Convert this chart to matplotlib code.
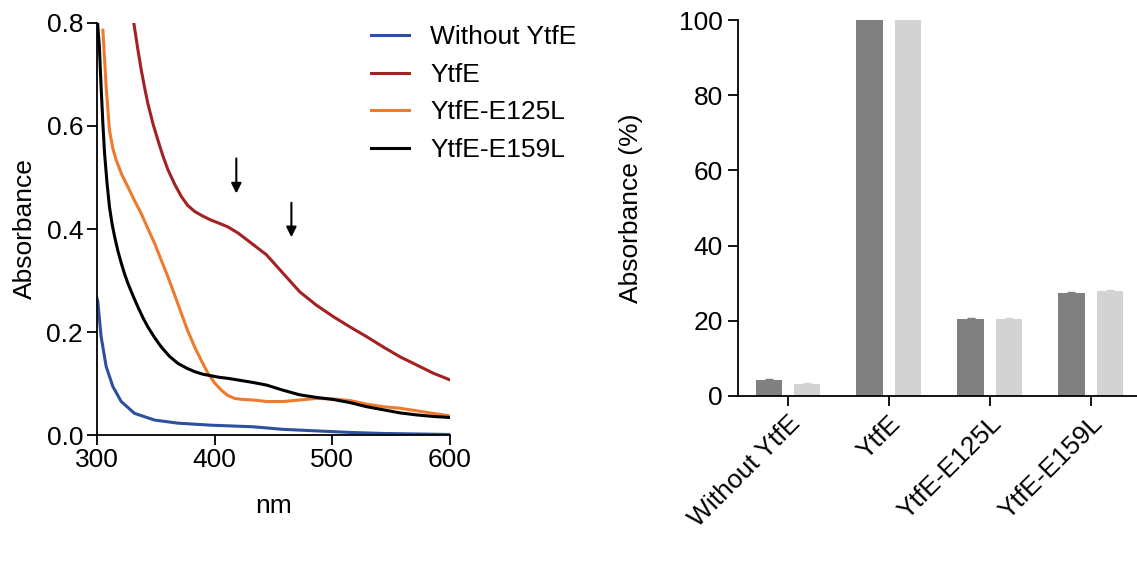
import matplotlib
matplotlib.use('Agg')
import matplotlib.pyplot as plt
import numpy as np

plt.rcParams.update({'font.family': 'Liberation Sans'})
plt.rcParams.update({'font.size': 19})

# Spectra (wavelength in nm, absorbance)
wl_without = [300, 300.7, 303.5, 307.8, 313.5, 320.6, 331.9, 349, 368.8, 397.2, 432.6, 458, 486.5,
              514.9, 543, 571.6, 600]
abs_without = [0.265, 0.259, 0.191, 0.133, 0.094, 0.065, 0.042, 0.029, 0.023, 0.019, 0.016, 0.011,
               0.008, 0.005, 0.003, 0.002, 0.001]

wl_ytfe = [331.3, 334.5, 337.6, 340.5, 343.2, 347.5, 351.7, 356, 360.3, 366, 371.7, 377, 383, 390,
           397.2, 404, 411.3, 420, 432.6, 444, 458.1, 472.3, 486.5, 500.7, 514.9, 529.1, 543.2,
           557.4, 571.6, 585.8, 600]
abs_ytfe = [0.8, 0.752, 0.709, 0.674, 0.644, 0.605, 0.573, 0.542, 0.515, 0.487, 0.463, 0.446, 0.434,
            0.425, 0.417, 0.411, 0.404, 0.392, 0.370, 0.350, 0.314, 0.278, 0.252, 0.230, 0.210,
            0.191, 0.171, 0.152, 0.136, 0.120, 0.107]

wl_e125 = [305, 307.8, 310.6, 313.5, 316.3, 321, 326.2, 331.5, 337.6, 343, 349, 354.5, 360.3, 366,
           371.7, 377, 383, 389, 394.3, 400, 405.7, 411, 417, 424, 432.6, 444, 458.1, 472.3, 486.5,
           500.7, 514.9, 529.1, 543.2, 557.4, 571.6, 585.8, 600]
abs_e125 = [0.786, 0.676, 0.592, 0.556, 0.534, 0.506, 0.482, 0.457, 0.430, 0.402, 0.372, 0.34,
            0.307, 0.272, 0.236, 0.203, 0.171, 0.143, 0.120, 0.101, 0.087, 0.077, 0.071, 0.069,
            0.068, 0.065, 0.065, 0.068, 0.071, 0.070, 0.067, 0.060, 0.055, 0.052, 0.047, 0.042,
            0.037]

wl_e159 = [300.5, 302, 303.5, 305, 306.4, 308.5, 310.6, 312.8, 315, 317.8, 320.6, 323.4, 326.2, 330.5,
           334.7, 339, 343.2, 349, 354.6, 361.5, 368.8, 376, 383, 390, 397, 404, 411.3, 422, 432.6,
           444, 458.1, 472.3, 486.5, 500.7, 514.9, 529.1, 543.2, 557.4, 571.6, 585.8, 600]
abs_e159 = [0.8, 0.755, 0.676, 0.605, 0.548, 0.49, 0.443, 0.41, 0.385, 0.357, 0.334, 0.313, 0.295,
            0.271, 0.249, 0.228, 0.210, 0.189, 0.171, 0.153, 0.139, 0.13, 0.123, 0.118, 0.115,
            0.112, 0.110, 0.106, 0.102, 0.097, 0.087, 0.078, 0.073, 0.069, 0.063, 0.055, 0.049,
            0.043, 0.039, 0.036, 0.034]

labels = ['Without YtfE', 'YtfE', 'YtfE-E125L', 'YtfE-E159L']
colors = ['#2c4f9e', '#a32123', '#ee7a2e', '#000000']

# Relative absorbance (%) for the two bars of each sample
bar_dark = [4.2, 100, 20.6, 27.3]
bar_light = [3.2, 100, 20.4, 27.9]
err_dark = [0.2, 0, 0.2, 0.3]
err_light = [0.2, 0, 0.4, 0.3]

fig = plt.figure(figsize=(11.37, 5.72), dpi=100)

# Left panel: spectra
ax1 = fig.add_axes([0.0853, 0.2395, 0.3105, 0.7203])
series = [(wl_without, abs_without), (wl_ytfe, abs_ytfe), (wl_e125, abs_e125), (wl_e159, abs_e159)]
for (x, y), lab, col in zip(series, labels, colors):
    ax1.plot(x, y, color=col, lw=2.2, label=lab)
ax1.set_xlim(300, 600)
ax1.set_ylim(0, 0.8)
ax1.set_xticks([300, 400, 500, 600])
ax1.set_yticks([0.0, 0.2, 0.4, 0.6, 0.8])
ax1.set_yticklabels(['0.0', '0.2', '0.4', '0.6', '0.8'])
ax1.spines['top'].set_visible(False)
ax1.spines['right'].set_visible(False)
ax1.spines['left'].set_linewidth(1.3)
ax1.spines['bottom'].set_linewidth(1.3)
ax1.tick_params(direction='out', length=7, width=1.3)
ax1.tick_params(axis='y', pad=3)
ax1.tick_params(axis='x', pad=2)
ax1.set_ylabel('Absorbance', labelpad=7)
ax1.set_xlabel('nm', labelpad=16)

# arrows marking the shoulders
for xa, ytop, ytip in [(418.4, 0.537, 0.469), (465.2, 0.451, 0.384)]:
    ax1.annotate('', xy=(xa, ytip), xytext=(xa, ytop),
                 arrowprops=dict(arrowstyle='-|>', color='black', lw=1.5, mutation_scale=15,
                                 shrinkA=0, shrinkB=0))

ax1.legend(loc='upper left', bbox_to_anchor=(0.776, 0.994), frameon=False, handlelength=1.45,
           handletextpad=0.8, labelspacing=0.51, borderpad=0, borderaxespad=0, fontsize=19)

# Right panel: bars
ax2 = fig.add_axes([0.649, 0.3077, 0.351, 0.6573])
idx = np.arange(len(labels))
ax2.bar(idx - 0.19, bar_dark, 0.26, color='#808080', yerr=err_dark, ecolor='#808080', capsize=3)
ax2.bar(idx + 0.19, bar_light, 0.26, color='#d3d3d3', yerr=err_light, ecolor='#d3d3d3', capsize=3)
ax2.set_xlim(-0.495, 3.46)
ax2.set_ylim(0, 100)
ax2.set_yticks([0, 20, 40, 60, 80, 100])
ax2.set_xticks(idx)
ax2.set_xticklabels(labels, rotation=45, ha='right', rotation_mode='anchor')
ax2.spines['top'].set_visible(False)
ax2.spines['right'].set_visible(False)
ax2.spines['left'].set_linewidth(1.3)
ax2.spines['bottom'].set_linewidth(1.3)
ax2.tick_params(direction='out', length=7, width=1.3, pad=4)
ax2.set_ylabel('Absorbance (%)', labelpad=26)

plt.savefig('out.png', dpi=100)
